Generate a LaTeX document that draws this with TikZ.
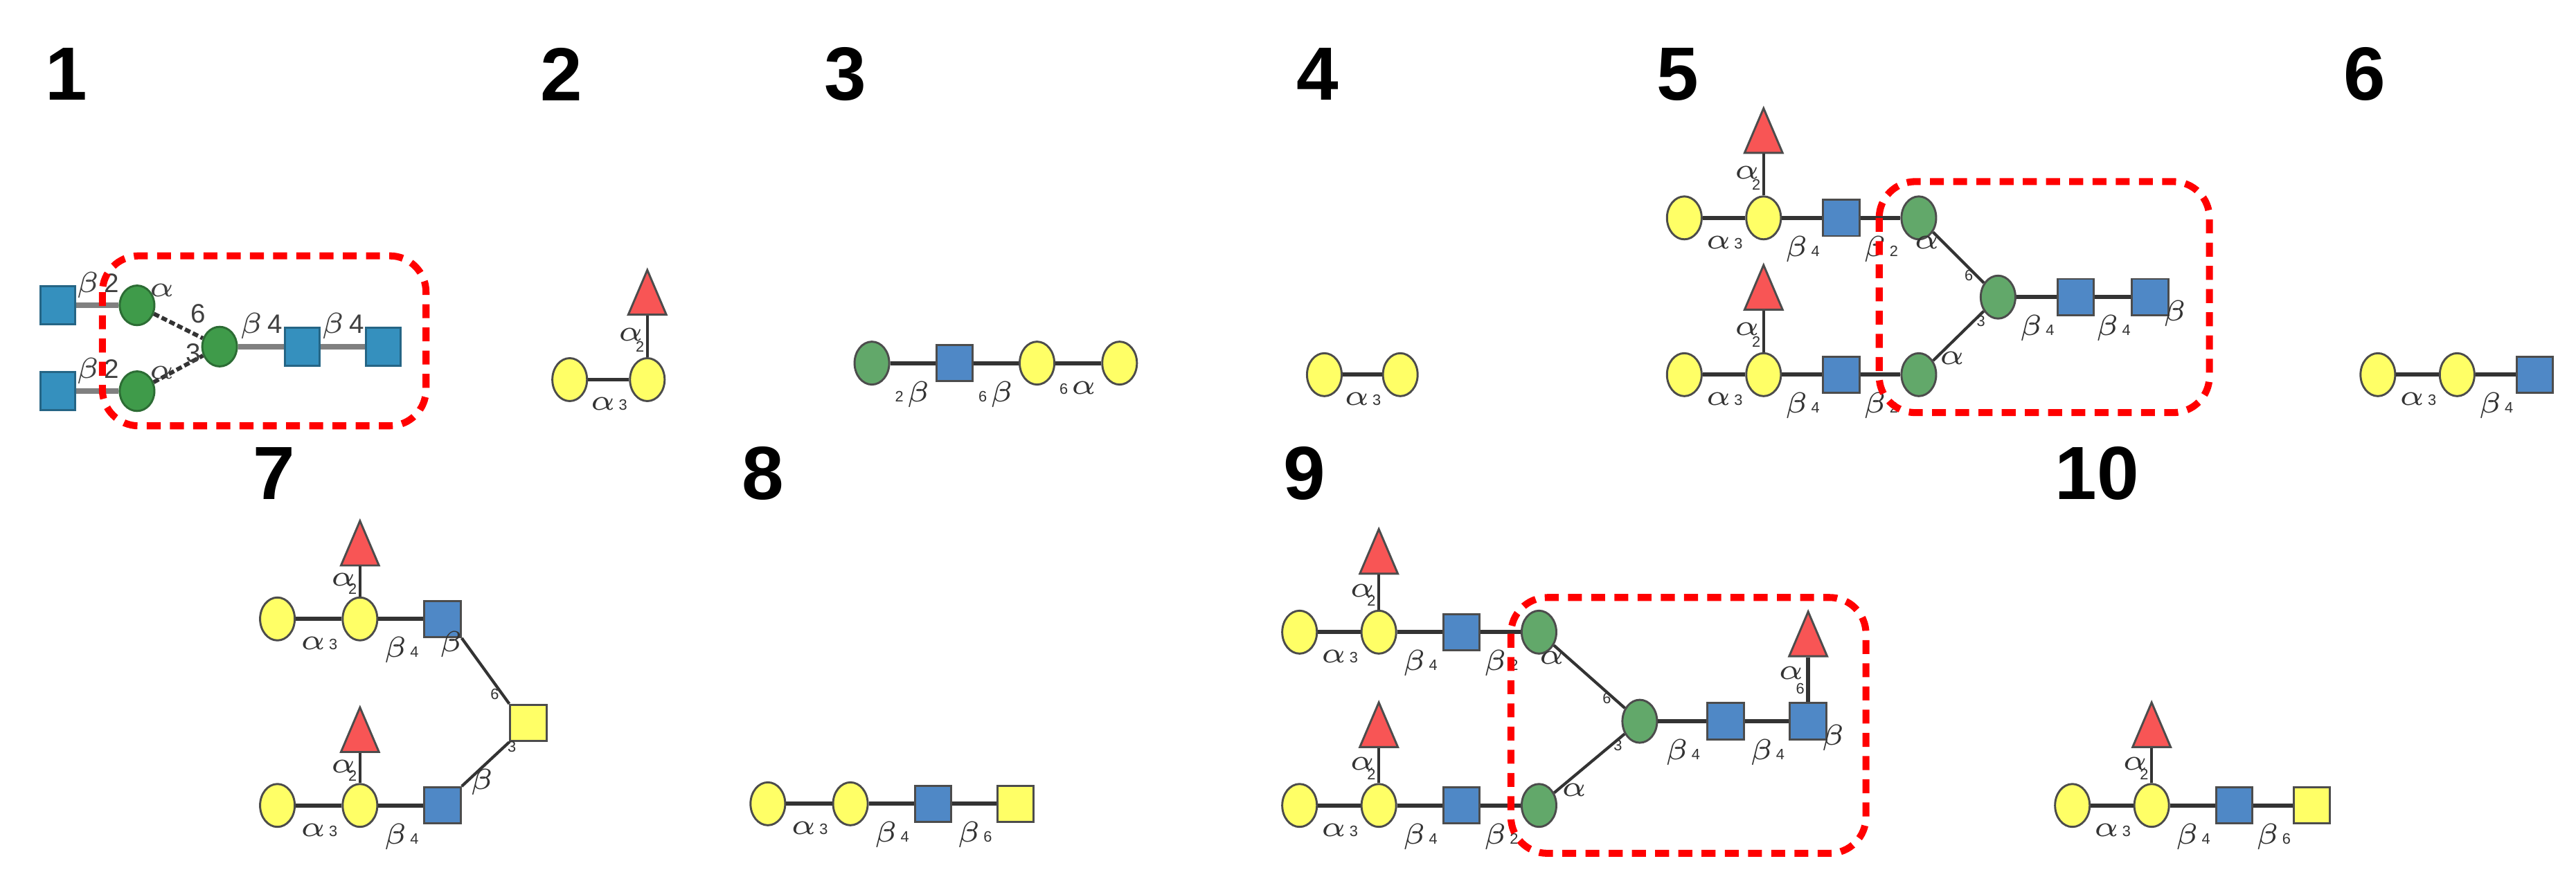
\documentclass[tikz,border=0pt]{standalone}
\usepackage{fontspec}
\setmainfont{Liberation Sans}
\usetikzlibrary{shapes.geometric}
\definecolor{galY}{HTML}{FFFF66}
\definecolor{manG}{HTML}{62A86A}
\definecolor{manD}{HTML}{3F9B4A}
\definecolor{nacB}{HTML}{4F88C6}
\definecolor{nacT}{HTML}{3590BE}
\definecolor{fucR}{HTML}{F85555}
\tikzset{
  res/.style={draw=black!70, line width=0.35pt, inner sep=0pt},
  gal/.style={res, ellipse, fill=galY, minimum width=0.21cm, minimum height=0.26cm},
  man/.style={res, ellipse, fill=manG, minimum width=0.21cm, minimum height=0.26cm},
  mand/.style={res, ellipse, fill=manD, draw=manD!70!black, minimum width=0.21cm, minimum height=0.24cm},
  nac/.style={res, rectangle, fill=nacB, minimum size=0.22cm},
  nact/.style={res, rectangle, fill=nacT, draw=nacT!70!black, minimum width=0.21cm, minimum height=0.23cm},
  galnac/.style={res, rectangle, fill=galY, minimum size=0.22cm},
  fuc/.style={res, isosceles triangle, isosceles triangle stretches, shape border rotate=90,
    fill=fucR, minimum width=0.23cm, minimum height=0.27cm},
  link/.style={draw=black!80, line width=0.7pt},
  lk/.style={font=\fontsize{2.6}{2.6}\selectfont, inner sep=0.3pt, text=black!80},
  lkb/.style={font=\fontsize{4.6}{4.6}\selectfont, inner sep=0.3pt, text=black!75},
  num/.style={font=\fontsize{13}{13}\selectfont\bfseries, anchor=center},
  core/.style={draw=red, line width=1.2pt, dash pattern=on 2.4pt off 1.6pt, rounded corners=0.22cm}
}
\begin{document}
\begin{tikzpicture}[x=0.1mm,y=-0.1mm]
\useasboundingbox (0,0) rectangle (1560,527);
% numbers
\foreach \n/\x/\y in {1/40/45,2/340/45,3/512/45,4/798/45,5/1016/45,6/1432/45,
  7/166/287,8/462/287,9/790/287,10/1270/287}
  \node[num] at (\x,\y) {\n};
% structure 1
\node[nact] (a1) at (35,185) {};
\node[nact] (a2) at (35,237) {};
\node[mand] (a3) at (83,185) {};
\node[mand] (a4) at (83,237) {};
\node[mand] (a5) at (133,210) {};
\node[nact] (a6) at (183,210) {};
\node[nact] (a7) at (232,210) {};
\draw[link,draw=black!50,line width=1pt] (a1) -- node[lkb,above=0.5pt]{$\beta$\,2} (a3);
\draw[link,draw=black!50,line width=1pt] (a2) -- node[lkb,above=0.5pt]{$\beta$\,2} (a4);
\draw[link,dash pattern=on 1pt off 0.5pt] (a3) -- (a5);
\draw[link,dash pattern=on 1pt off 0.5pt] (a4) -- (a5);
\node[lkb] at (98,176) {$\alpha$};
\node[lkb] at (120,190) {6};
\node[lkb] at (117,214) {3};
\node[lkb] at (98,226) {$\alpha$};
\draw[link,draw=black!50,line width=1pt] (a5) -- node[lkb,above=0.5pt]{$\beta$\,4} (a6);
\draw[link,draw=black!50,line width=1pt] (a6) -- node[lkb,above=0.5pt]{$\beta$\,4} (a7);
\draw[core] (62,155) rectangle (258,258);
% structure 2
\node[gal] (b1) at (345,230) {};
\node[gal] (b2) at (392,230) {};
\node[fuc] (b3) at (392,183) {};
\draw[link] (b1) -- node[lk,below=2.5pt]{$\alpha$\,3} (b2);
\draw[link,line width=0.5pt] (b2) -- node[lk,left,pos=0.25]{2} node[lk,left,pos=0.55]{$\alpha$} (b3);
% structure 3
\node[man] (c1) at (528,220) {};
\node[nac] (c2) at (578,220) {};
\node[gal] (c3) at (628,220) {};
\node[gal] (c4) at (678,220) {};
\draw[link] (c1) -- node[lk,below=2.5pt]{2\,$\beta$} (c2);
\draw[link] (c2) -- node[lk,below=2.5pt]{6\,$\beta$} (c3);
\draw[link] (c3) -- node[lk,below=2.5pt]{6\,$\alpha$} (c4);
% structure 4
\node[gal] (d1) at (802,227) {};
\node[gal] (d2) at (848,227) {};
\draw[link] (d1) -- node[lk,below=2.5pt]{$\alpha$\,3} (d2);
% structure 5
\foreach \r/\y in {t/132,u/227}{
  \node[gal] (e\r1) at (1020,\y) {};
  \node[gal] (e\r2) at (1068,\y) {};
  \node[nac] (e\r3) at (1115,\y) {};
  \node[man] (e\r4) at (1162,\y) {};
  \node[fuc] (e\r5) at (1068,\y-47) {};
  \draw[link] (e\r1) -- node[lk,below=2.5pt]{$\alpha$\,3} (e\r2);
  \draw[link] (e\r2) -- node[lk,below=2.5pt]{$\beta$\,4} (e\r3);
  \draw[link] (e\r3) -- node[lk,below=2.5pt]{$\beta$\,2} (e\r4);
  \draw[link,line width=0.5pt] (e\r2) -- node[lk,left,pos=0.25]{2} node[lk,left,pos=0.55]{$\alpha$} (e\r5);
}
\node[man] (e1) at (1210,180) {};
\node[nac] (e2) at (1257,180) {};
\node[nac] (e3) at (1302,180) {};
\draw[link,line width=0.5pt] (et4) -- node[lk,left,pos=0.2]{$\alpha$} node[lk,left,pos=0.85]{6} (e1);
\draw[link,line width=0.5pt] (eu4) -- node[lk,right,pos=0.05]{$\alpha$} node[lk,right,pos=0.8]{3} (e1);
\draw[link] (e1) -- node[lk,below=2.5pt]{$\beta$\,4} (e2);
\draw[link] (e2) -- node[lk,below=2.5pt]{$\beta$\,4} (e3);
\node[lk] at (1317,190) {$\beta$};
\draw[core] (1138,110) rectangle (1338,250);
% structure 6
\node[gal] (f1) at (1440,227) {};
\node[gal] (f2) at (1488,227) {};
\node[nac] (f3) at (1535,227) {};
\draw[link] (f1) -- node[lk,below=2.5pt]{$\alpha$\,3} (f2);
\draw[link] (f2) -- node[lk,below=2.5pt]{$\beta$\,4} (f3);
% structure 7
\foreach \r/\y in {t/375,u/488}{
  \node[gal] (g\r1) at (168,\y) {};
  \node[gal] (g\r2) at (218,\y) {};
  \node[nac] (g\r3) at (268,\y) {};
  \node[fuc] (g\r5) at (218,\y-40) {};
  \draw[link] (g\r1) -- node[lk,below=2.5pt]{$\alpha$\,3} (g\r2);
  \draw[link] (g\r2) -- node[lk,below=2.5pt]{$\beta$\,4} (g\r3);
  \draw[link,line width=0.5pt] (g\r2) -- node[lk,left,pos=0.25]{2} node[lk,left,pos=0.55]{$\alpha$} (g\r5);
}
\node[galnac] (g1) at (320,438) {};
\draw[link,line width=0.5pt] (gt3.south east) -- node[lk,left,pos=0.1]{$\beta$} node[lk,left,pos=0.85]{6} (g1.north west);
\draw[link,line width=0.5pt] (gu3.north east) -- node[lk,right,pos=0.1]{$\beta$} node[lk,right,pos=0.9]{3} (g1.south west);
% structure 8
\node[gal] (h1) at (465,487) {};
\node[gal] (h2) at (515,487) {};
\node[nac] (h3) at (565,487) {};
\node[galnac] (h4) at (615,487) {};
\draw[link] (h1) -- node[lk,below=2.5pt]{$\alpha$\,3} (h2);
\draw[link] (h2) -- node[lk,below=2.5pt]{$\beta$\,4} (h3);
\draw[link] (h3) -- node[lk,below=2.5pt]{$\beta$\,6} (h4);
% structure 9
\foreach \r/\y in {t/383,u/488}{
  \node[gal] (i\r1) at (787,\y) {};
  \node[gal] (i\r2) at (835,\y) {};
  \node[nac] (i\r3) at (885,\y) {};
  \node[man] (i\r4) at (932,\y) {};
  \node[fuc] (i\r5) at (835,\y-43) {};
  \draw[link] (i\r1) -- node[lk,below=2.5pt]{$\alpha$\,3} (i\r2);
  \draw[link] (i\r2) -- node[lk,below=2.5pt]{$\beta$\,4} (i\r3);
  \draw[link] (i\r3) -- node[lk,below=2.5pt]{$\beta$\,2} (i\r4);
  \draw[link,line width=0.5pt] (i\r2) -- node[lk,left,pos=0.25]{2} node[lk,left,pos=0.55]{$\alpha$} (i\r5);
}
\node[man] (i1) at (993,437) {};
\node[nac] (i2) at (1045,437) {};
\node[nac] (i3) at (1095,437) {};
\node[fuc] (i4) at (1095,390) {};
\draw[link,line width=0.5pt] (it4) -- node[lk,left,pos=0.2]{$\alpha$} node[lk,left,pos=0.85]{6} (i1);
\draw[link,line width=0.5pt] (iu4) -- node[lk,right,pos=0.05]{$\alpha$} node[lk,right,pos=0.8]{3} (i1);
\draw[link] (i1) -- node[lk,below=2.5pt]{$\beta$\,4} (i2);
\draw[link] (i2) -- node[lk,below=2.5pt]{$\beta$\,4} (i3);
\draw[link] (i3) -- node[lk,left,pos=0.3]{6} node[lk,left,pos=0.65]{$\alpha$} (i4);
\node[lk] at (1110,447) {$\beta$};
\draw[core] (915,362) rectangle (1130,517);
% structure 10
\node[gal] (j1) at (1255,488) {};
\node[gal] (j2) at (1303,488) {};
\node[nac] (j3) at (1353,488) {};
\node[galnac] (j4) at (1400,488) {};
\node[fuc] (j5) at (1303,445) {};
\draw[link] (j1) -- node[lk,below=2.5pt]{$\alpha$\,3} (j2);
\draw[link] (j2) -- node[lk,below=2.5pt]{$\beta$\,4} (j3);
\draw[link] (j3) -- node[lk,below=2.5pt]{$\beta$\,6} (j4);
\draw[link,line width=0.5pt] (j2) -- node[lk,left,pos=0.25]{2} node[lk,left,pos=0.55]{$\alpha$} (j5);
\end{tikzpicture}
\end{document}
